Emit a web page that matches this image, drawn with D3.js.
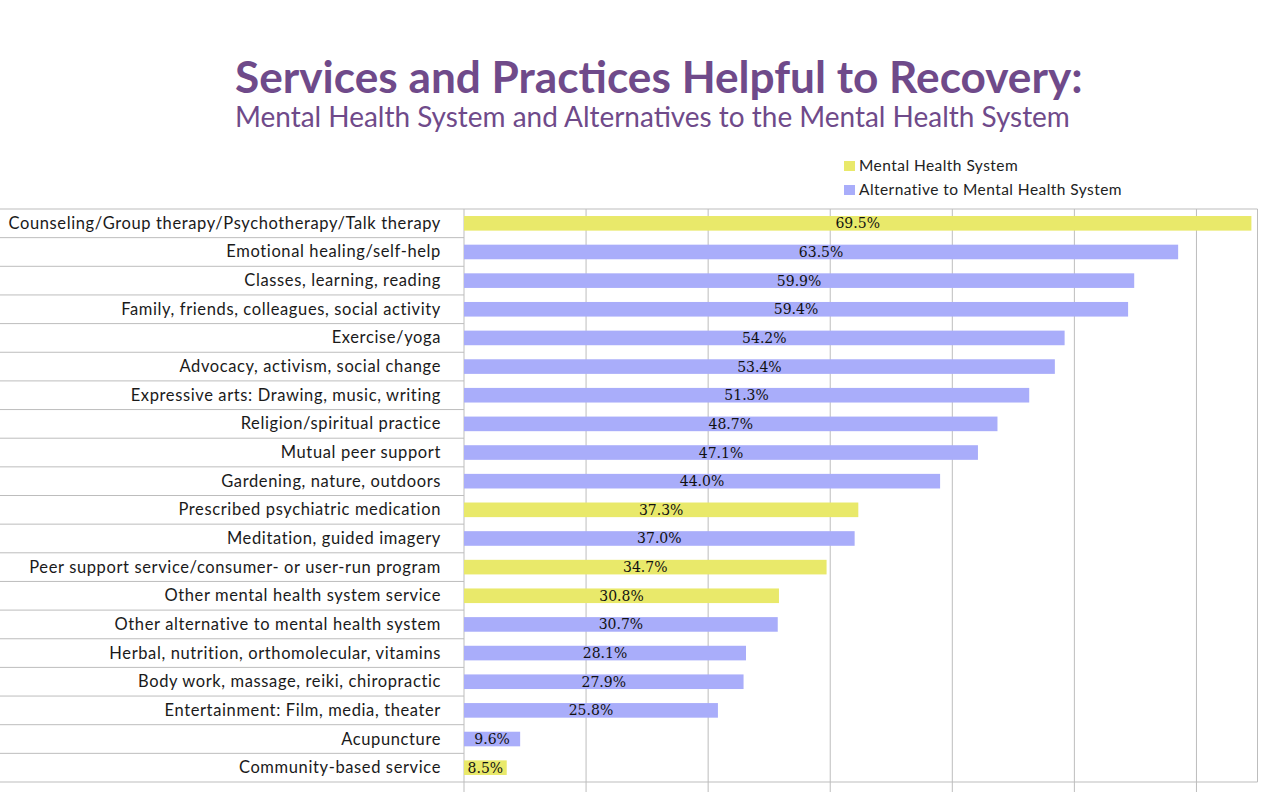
<!DOCTYPE html>
<html><head><meta charset="utf-8">
<script src="https://cdn.jsdelivr.net/npm/d3@7"></script>
<style>
html,body{margin:0;padding:0;background:#fff;}
</style></head>
<body>
<svg id="chart" width="1272" height="792"></svg>
<script>
const categories = [
  "Counseling/Group therapy/Psychotherapy/Talk therapy",
  "Emotional healing/self-help",
  "Classes, learning, reading",
  "Family, friends, colleagues, social activity",
  "Exercise/yoga",
  "Advocacy, activism, social change",
  "Expressive arts: Drawing, music, writing",
  "Religion/spiritual practice",
  "Mutual peer support",
  "Gardening, nature, outdoors",
  "Prescribed psychiatric medication",
  "Meditation, guided imagery",
  "Peer support service/consumer- or user-run program",
  "Other mental health system service",
  "Other alternative to mental health system",
  "Herbal, nutrition, orthomolecular, vitamins",
  "Body work, massage, reiki, chiropractic",
  "Entertainment: Film, media, theater",
  "Acupuncture",
  "Community-based service"
];
const values = [69.5, 63.5, 59.9, 59.4, 54.2, 53.4, 51.3, 48.7, 47.1, 44.0, 37.3, 37.0, 34.7, 30.8, 30.7, 28.1, 27.9, 25.8, 9.6, 8.5];
const groups = ["M","A","A","A","A","A","A","A","A","A","M","A","M","M","A","A","A","A","A","M"];
const seriesNames = ["Mental Health System", "Alternative to Mental Health System"];
const seriesKeys = ["M", "A"];
const gridTicks = [5, 15, 25, 35, 45, 55, 65];

const colors = {M: "#e9e96a", A: "#a9adfa"};
const purple = "#6f4a8a";
const gridColor = "#bdbdbd";

const svg = d3.select("#chart");
const plotL = 464, plotR = 1257.5, plotT = 209, plotB = 782;

const x = d3.scaleLinear().domain([5, 70]).range([plotL, plotR]);
const y = d3.scaleBand().domain(categories).range([plotT, plotB]).paddingInner(0.49).paddingOuter(0.245);
const rowScale = d3.scaleBand().domain(categories).range([plotT, plotB]);

// Title
const title = svg.append("text").attr("x", 235).attr("y", 93)
  .attr("font-family", "Lato, 'Open Sans', sans-serif").attr("font-weight", "bold")
  .attr("font-size", 40).attr("fill", purple)
  .text("Services and Practices Helpful to Recovery:");
let w = title.node().getComputedTextLength();
title.attr("font-size", 40 * 848 / w);

const sub = svg.append("text").attr("x", 235).attr("y", 127)
  .attr("font-family", "Lato, 'Open Sans', sans-serif")
  .attr("font-size", 26).attr("fill", purple)
  .text("Mental Health System and Alternatives to the Mental Health System");
w = sub.node().getComputedTextLength();
sub.attr("font-size", 26 * 835 / w);

// Legend
const leg = svg.append("g");
seriesKeys.forEach((k, i) => {
  const ly = 161 + i * 24;
  leg.append("rect").attr("x", 844).attr("y", ly).attr("width", 11).attr("height", 10).attr("fill", colors[k]);
  leg.append("text").attr("x", 859).attr("y", ly + 9.5)
    .attr("font-family", "Lato, 'Open Sans', sans-serif").attr("font-size", 15.5).attr("fill", "#222")
    .attr("letter-spacing", 0.45)
    .text(seriesNames[i]);
});

// Grid
const grid = svg.append("g");
grid.selectAll("line.v").data(gridTicks).join("line").attr("class", "v")
  .attr("x1", d => x(d)).attr("x2", d => x(d)).attr("y1", plotT).attr("y2", 792)
  .attr("stroke", gridColor).attr("stroke-width", 1);
grid.append("line").attr("x1", plotR).attr("x2", plotR).attr("y1", plotT).attr("y2", plotB)
  .attr("stroke", gridColor);
// row separators in label area
const rowEdges = categories.map(c => rowScale(c)).concat([plotB]);
grid.selectAll("line.h").data(rowEdges).join("line").attr("class", "h")
  .attr("x1", 0).attr("x2", (d, i) => (i === 0 || i === rowEdges.length - 1) ? plotR : plotL)
  .attr("y1", d => d).attr("y2", d => d)
  .attr("stroke", gridColor).attr("stroke-width", 1);

// Category labels
svg.append("g").selectAll("text").data(categories).join("text")
  .attr("x", 441).attr("y", d => rowScale(d) + rowScale.bandwidth() / 2 + 5.5)
  .attr("text-anchor", "end")
  .attr("font-family", "Lato, 'Open Sans', sans-serif").attr("font-size", 16.5).attr("fill", "#1a1a1a")
  .attr("letter-spacing", 0.62)
  .text(d => d);

// Bars
const data = categories.map((c, i) => ({c, v: values[i], g: groups[i]}));
svg.append("g").selectAll("rect").data(data).join("rect")
  .attr("x", x(5)).attr("y", d => y(d.c))
  .attr("width", d => x(d.v) - x(5)).attr("height", y.bandwidth())
  .attr("fill", d => colors[d.g]);

// Value labels
svg.append("g").selectAll("text").data(data).join("text")
  .attr("x", d => (x(5) + x(d.v)) / 2).attr("y", d => y(d.c) + y.bandwidth() / 2 + 5)
  .attr("text-anchor", "middle")
  .attr("font-family", "'DejaVu Serif', serif").attr("font-size", 14).attr("fill", "#111")
  .text(d => d.v.toFixed(1) + "%");
</script>
</body></html>
